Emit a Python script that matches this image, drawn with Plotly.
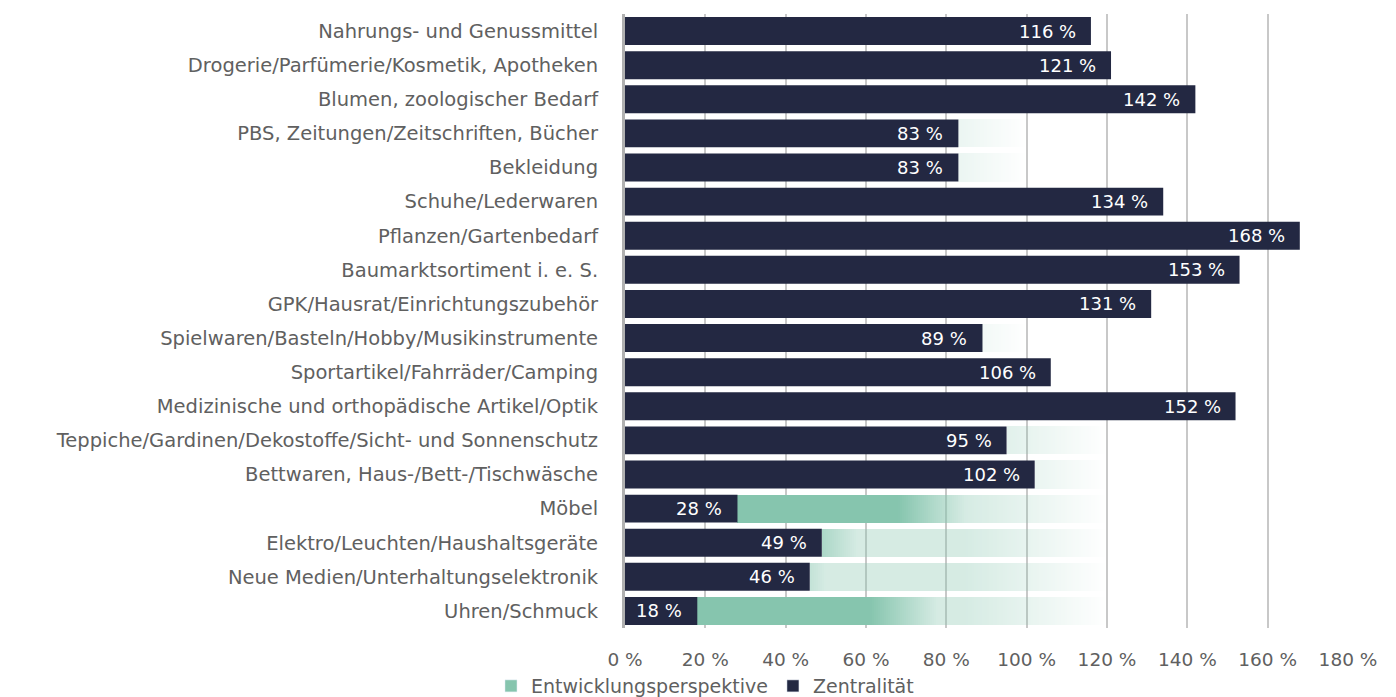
import math
import plotly.graph_objects as go

# Sortimente (von oben nach unten)
categories = [
    "Nahrungs- und Genussmittel",
    "Drogerie/Parfümerie/Kosmetik, Apotheken",
    "Blumen, zoologischer Bedarf",
    "PBS, Zeitungen/Zeitschriften, Bücher",
    "Bekleidung",
    "Schuhe/Lederwaren",
    "Pflanzen/Gartenbedarf",
    "Baumarktsortiment i. e. S.",
    "GPK/Hausrat/Einrichtungszubehör",
    "Spielwaren/Basteln/Hobby/Musikinstrumente",
    "Sportartikel/Fahrräder/Camping",
    "Medizinische und orthopädische Artikel/Optik",
    "Teppiche/Gardinen/Dekostoffe/Sicht- und Sonnenschutz",
    "Bettwaren, Haus-/Bett-/Tischwäsche",
    "Möbel",
    "Elektro/Leuchten/Haushaltsgeräte",
    "Neue Medien/Unterhaltungselektronik",
    "Uhren/Schmuck",
]

# Zentralität in %
zentralitaet = [116, 121, 142, 83, 83, 134, 168, 153, 131, 89, 106, 152, 95, 102, 28, 49, 46, 18]

# Entwicklungsperspektive: Kernbereich (kräftig) und Obergrenze (auslaufend), in %
perspektive_kern = [None, None, None, None, None, None, None, None, None, None, None, None,
                    None, None, 85, 58, 50, 78]
perspektive_max = [None, None, None, 100, 100, None, None, None, None, 100, None, None,
                   120, 120, 120, 120, 120, 120]

tick_vals = [0, 20, 40, 60, 80, 100, 120, 140, 160, 180]
tick_text = ["0 %", "20 %", "40 %", "60 %", "80 %", "100 %", "120 %", "140 %", "160 %", "180 %"]

NAVY = "#232842"
GREEN_RGB = (134, 197, 174)
GREEN = "rgb(%d,%d,%d)" % GREEN_RGB
FONT = "DejaVu Sans"
TEXT_GRAY = "#606060"

fig = go.Figure()


def perspective_alpha(x, kern, obergrenze):
    """Deckkraft des Verlaufs an der Stelle x."""
    core = 0.0
    if kern is not None and x < kern:
        core = 0.34 + 0.66 * min(1.0, (kern - x) / 17.0)
    tail = 0.34 * max(0.0, min(1.0, (obergrenze - x) / 35.0))
    return max(core, tail)


# Verlauf der Entwicklungsperspektive als Raster (halbe Prozentpunkte)
step = 0.5
top_all = max(v for v in perspektive_max if v is not None)
n_cells = int(round(top_all / step))
x_edges = [i * step for i in range(n_cells + 1)]
z_rows = []
for z, kern, top in zip(zentralitaet, perspektive_kern, perspektive_max):
    row = []
    for i in range(n_cells):
        xm = (i + 0.5) * step
        if top is None or xm < z or xm > top:
            row.append(math.nan)
        else:
            row.append(perspective_alpha(xm, kern, top))
    z_rows.append(row)

fig.add_trace(go.Heatmap(
    x=x_edges, y=categories, z=z_rows,
    zmin=0, zmax=1, showscale=False, hoverinfo="skip",
    colorscale=[[0, "rgba(%d,%d,%d,0)" % GREEN_RGB], [1, "rgba(%d,%d,%d,1)" % GREEN_RGB]],
    ygap=6,
))

# Zentralität
fig.add_trace(go.Bar(
    y=categories, x=zentralitaet, orientation="h", base=0,
    marker=dict(color=NAVY, line=dict(width=0)),
    name="Zentralität", showlegend=False,
))

# Legendeneinträge
fig.add_trace(go.Bar(y=[None], x=[None], orientation="h", name="Entwicklungsperspektive",
                     marker=dict(color=GREEN)))
fig.add_trace(go.Bar(y=[None], x=[None], orientation="h", name="Zentralität",
                     marker=dict(color=NAVY)))

# Wertbeschriftungen innerhalb der Balken
for cat, z in zip(categories, zentralitaet):
    fig.add_annotation(
        x=z, y=cat, text="%d %%" % z, showarrow=False,
        xanchor="right", xshift=-13,
        font=dict(family=FONT, size=18, color="white"),
    )

fig.update_layout(
    width=1396, height=697,
    margin=dict(l=625, r=48, t=14, b=69, autoexpand=False),
    paper_bgcolor="white", plot_bgcolor="white",
    barmode="overlay", bargap=0.18,
    font=dict(family=FONT, size=18, color=TEXT_GRAY),
    legend=dict(
        orientation="h", xref="container", yref="container",
        x=0.505, xanchor="center", y=0.043, yanchor="top",
        font=dict(family=FONT, size=19, color=TEXT_GRAY),
        traceorder="normal", itemwidth=30,
    ),
)
fig.update_xaxes(
    range=[0, 180], tickvals=tick_vals, ticktext=tick_text,
    tickfont=dict(size=18.5), automargin=False,
    showgrid=True, gridcolor="#c8c8c8", gridwidth=2,
    zeroline=False, showline=False, ticks="", ticklabelstandoff=18,
)
fig.update_yaxes(
    categoryorder="array", categoryarray=categories, autorange="reversed",
    tickfont=dict(size=19.5), automargin=False,
    showgrid=False, ticks="", ticklabelstandoff=20,
    showline=True, linecolor="#b0b0b0", linewidth=3,
)

fig.write_html("out.html")
